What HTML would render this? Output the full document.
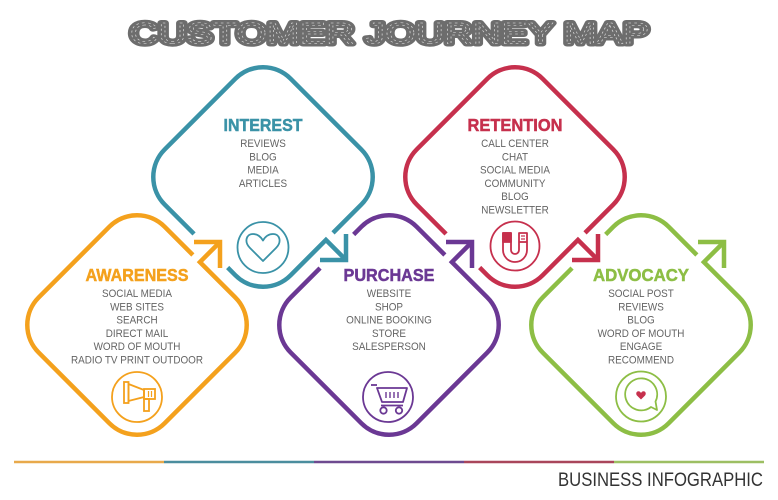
<!DOCTYPE html>
<html>
<head>
<meta charset="utf-8">
<style>
html,body{margin:0;padding:0;background:#fff;}
body{width:778px;height:500px;overflow:hidden;position:relative;}
svg{position:absolute;left:0;top:0;}
.it{font-family:"Liberation Sans",sans-serif;font-size:11px;fill:#646464;text-anchor:middle;}
.tt{font-family:"Liberation Sans",sans-serif;font-size:17.5px;font-weight:bold;stroke-width:0.5;}
</style>
</head>
<body>
<svg width="778" height="500" viewBox="0 0 778 500" xmlns="http://www.w3.org/2000/svg">
  <!-- Title -->
  <text x="129.75" y="43.3" font-family="Liberation Sans, sans-serif" font-size="30" textLength="519.5" lengthAdjust="spacingAndGlyphs" fill="#6d6d6d" stroke="#6d6d6d" stroke-width="6" stroke-linejoin="round">CUSTOMER JOURNEY MAP</text>
  <text x="129.75" y="43.3" font-family="Liberation Sans, sans-serif" font-size="30" textLength="519.5" lengthAdjust="spacingAndGlyphs" fill="none" stroke="#ffffff" stroke-width="0.5" stroke-dasharray="2 2.5" opacity="0.8">CUSTOMER JOURNEY MAP</text>

  <g fill="none" stroke-width="4.5" stroke-linecap="butt" stroke-linejoin="miter">
    <!-- Orange / Awareness -->
    <path stroke="#F4A11D" d="M192.86,255 L164.58,226.71 A39,39 0 0 0 109.42,226.71 L38.71,297.42 A39,39 0 0 0 38.71,352.58 L109.42,423.29 A39,39 0 0 0 164.58,423.29 L235.29,352.58 A39,39 0 0 0 235.29,297.42 L199.93,262.07 L220,242"/>
    <path stroke="#F4A11D" d="M194,242 L220,242 L220,268"/>
    <!-- Teal / Interest -->
    <path stroke="#3A92A7" d="M333,232.86 L361.29,204.58 A39,39 0 0 0 361.29,149.42 L290.58,78.71 A39,39 0 0 0 235.42,78.71 L164.71,149.42 A39,39 0 0 0 164.71,204.58 L194.06,233.92 M227.64,267.51 L235.42,275.29 A39,39 0 0 0 290.58,275.29 L325.93,239.93 L346,260"/>
    <path stroke="#3A92A7" d="M320,260 L346,260 L346,234"/>
    <!-- Purple / Purchase -->
    <path stroke="#6B3894" d="M444.86,255 L416.58,226.71 A39,39 0 0 0 361.42,226.71 L353.64,234.49 M320.06,268.08 L290.71,297.42 A39,39 0 0 0 290.71,352.58 L361.42,423.29 A39,39 0 0 0 416.58,423.29 L487.29,352.58 A39,39 0 0 0 487.29,297.42 L451.93,262.07 L472,242"/>
    <path stroke="#6B3894" d="M446,242 L472,242 L472,268"/>
    <!-- Red / Retention -->
    <path stroke="#C6304D" d="M585,232.86 L613.29,204.58 A39,39 0 0 0 613.29,149.42 L542.58,78.71 A39,39 0 0 0 487.42,78.71 L416.71,149.42 A39,39 0 0 0 416.71,204.58 L446.06,233.92 M479.64,267.51 L487.42,275.29 A39,39 0 0 0 542.58,275.29 L577.93,239.93 L598,260"/>
    <path stroke="#C6304D" d="M572,260 L598,260 L598,234"/>
    <!-- Green / Advocacy -->
    <path stroke="#8DBE45" d="M696.86,255 L668.58,226.71 A39,39 0 0 0 613.42,226.71 L605.64,234.49 M572.06,268.08 L542.71,297.42 A39,39 0 0 0 542.71,352.58 L613.42,423.29 A39,39 0 0 0 668.58,423.29 L739.29,352.58 A39,39 0 0 0 739.29,297.42 L703.93,262.07 L724,242"/>
    <path stroke="#8DBE45" d="M698,242 L724,242 L724,268"/>
  </g>

  <!-- Titles -->
  <text class="tt" x="85.5" y="281" textLength="103" lengthAdjust="spacingAndGlyphs" fill="#F4A11D" stroke="#F4A11D">AWARENESS</text>
  <text class="tt" x="223.5" y="131" textLength="79" lengthAdjust="spacingAndGlyphs" fill="#3A92A7" stroke="#3A92A7">INTEREST</text>
  <text class="tt" x="343.5" y="281" textLength="91" lengthAdjust="spacingAndGlyphs" fill="#6B3894" stroke="#6B3894">PURCHASE</text>
  <text class="tt" x="467.5" y="131" textLength="95" lengthAdjust="spacingAndGlyphs" fill="#C6304D" stroke="#C6304D">RETENTION</text>
  <text class="tt" x="593" y="281" textLength="96" lengthAdjust="spacingAndGlyphs" fill="#8DBE45" stroke="#8DBE45">ADVOCACY</text>

  <!-- Items -->
  <g transform="translate(137,0) scale(0.9,1)">
    <text class="it" x="0" y="297">SOCIAL MEDIA</text>
    <text class="it" x="0" y="310.3">WEB SITES</text>
    <text class="it" x="0" y="323.6">SEARCH</text>
    <text class="it" x="0" y="336.9">DIRECT MAIL</text>
    <text class="it" x="0" y="350.2">WORD OF MOUTH</text>
    <text class="it" x="0" y="363.5">RADIO TV PRINT OUTDOOR</text>
  </g>
  <g transform="translate(263,0) scale(0.9,1)">
    <text class="it" x="0" y="147">REVIEWS</text>
    <text class="it" x="0" y="160.3">BLOG</text>
    <text class="it" x="0" y="173.6">MEDIA</text>
    <text class="it" x="0" y="186.9">ARTICLES</text>
  </g>
  <g transform="translate(389,0) scale(0.9,1)">
    <text class="it" x="0" y="297">WEBSITE</text>
    <text class="it" x="0" y="310.3">SHOP</text>
    <text class="it" x="0" y="323.6">ONLINE BOOKING</text>
    <text class="it" x="0" y="336.9">STORE</text>
    <text class="it" x="0" y="350.2">SALESPERSON</text>
  </g>
  <g transform="translate(515,0) scale(0.9,1)">
    <text class="it" x="0" y="147">CALL CENTER</text>
    <text class="it" x="0" y="160.3">CHAT</text>
    <text class="it" x="0" y="173.6">SOCIAL MEDIA</text>
    <text class="it" x="0" y="186.9">COMMUNITY</text>
    <text class="it" x="0" y="200.2">BLOG</text>
    <text class="it" x="0" y="213.5">NEWSLETTER</text>
  </g>
  <g transform="translate(641,0) scale(0.9,1)">
    <text class="it" x="0" y="297">SOCIAL POST</text>
    <text class="it" x="0" y="310.3">REVIEWS</text>
    <text class="it" x="0" y="323.6">BLOG</text>
    <text class="it" x="0" y="336.9">WORD OF MOUTH</text>
    <text class="it" x="0" y="350.2">ENGAGE</text>
    <text class="it" x="0" y="363.5">RECOMMEND</text>
  </g>

  <!-- Icons -->
  <!-- Megaphone -->
  <g fill="none" stroke="#F4A11D" stroke-width="1.8" stroke-linejoin="miter">
    <circle cx="137" cy="397" r="25"/>
    <rect x="124" y="382" width="4.5" height="21"/>
    <polygon points="128.5,384 144,390 144,397 128.5,401"/>
    <rect x="144" y="389" width="11" height="10"/>
    <line x1="148.5" y1="391" x2="148.5" y2="397" stroke-width="1.2"/>
    <line x1="151.5" y1="391" x2="151.5" y2="397" stroke-width="1.2"/>
    <rect x="144" y="399" width="5" height="12"/>
  </g>
  <!-- Heart -->
  <g fill="none" stroke="#3A92A7" stroke-width="1.8" stroke-linejoin="round">
    <circle cx="263" cy="247.5" r="25.5"/>
    <path d="M263,261 L250,248 C244,242 246,234 253,234 C258,234 261,237 263,240.5 C265,237 268,234 273,234 C280,234 282,242 276,248 Z"/>
  </g>
  <!-- Cart -->
  <g fill="none" stroke="#6B3894" stroke-width="1.8" stroke-linejoin="round">
    <circle cx="388" cy="397" r="25"/>
    <line x1="371" y1="385" x2="377" y2="385"/>
    <polygon points="377,388 407,388 403,402 382,402"/>
    <line x1="386" y1="392" x2="386" y2="398" stroke-width="1.4"/>
    <line x1="390" y1="392" x2="390" y2="398" stroke-width="1.4"/>
    <line x1="394" y1="392" x2="394" y2="398" stroke-width="1.4"/>
    <line x1="398" y1="392" x2="398" y2="398" stroke-width="1.4"/>
    <line x1="381" y1="405.5" x2="403" y2="405.5"/>
    <circle cx="383.5" cy="410.5" r="3.2"/>
    <circle cx="399" cy="410.5" r="3.2"/>
  </g>
  <!-- Magnet -->
  <g fill="none" stroke="#C6304D" stroke-width="1.8" stroke-linejoin="round">
    <circle cx="515" cy="246" r="24.5"/>
    <path d="M503,233 L503,250 A12,12 0 0 0 527,250 L527,233 L519,233 L519,250 A4,4 0 0 1 511,250 L511,233 Z"/>
    <rect x="503" y="233" width="8" height="9" fill="#C6304D"/>
    <line x1="519" y1="242" x2="527" y2="242"/>
    <line x1="521" y1="236" x2="525" y2="236" stroke-width="1.2"/>
    <line x1="521" y1="239" x2="525" y2="239" stroke-width="1.2"/>
  </g>
  <!-- Speech bubble -->
  <g fill="none" stroke="#8DBE45" stroke-width="1.8" stroke-linejoin="round">
    <circle cx="641" cy="396.5" r="25"/>
    <path d="M651,407 A16,16 0 1 1 655.5,401.5 L657,410 Z"/>
  </g>
  <path d="M641,399.5 L637.2,395.7 C635.5,394 636.2,391.2 638.4,391.2 C639.7,391.2 640.5,392 641,393 C641.5,392 642.3,391.2 643.6,391.2 C645.8,391.2 646.5,394 644.8,395.7 Z" fill="#C6304D"/>

  <!-- Bottom line -->
  <g stroke-width="2.5">
    <line x1="14" y1="462" x2="164" y2="462" stroke="#E8A94B"/>
    <line x1="164" y1="462" x2="314" y2="462" stroke="#4B8D9E"/>
    <line x1="314" y1="462" x2="464" y2="462" stroke="#6E4A90"/>
    <line x1="464" y1="462" x2="614" y2="462" stroke="#A9465B"/>
    <line x1="614" y1="462" x2="764" y2="462" stroke="#9DBF63"/>
  </g>
  <text x="558" y="486" font-family="Liberation Sans, sans-serif" font-size="19" textLength="205" lengthAdjust="spacingAndGlyphs" fill="#333333">BUSINESS INFOGRAPHIC</text>
</svg>
</body>
</html>
